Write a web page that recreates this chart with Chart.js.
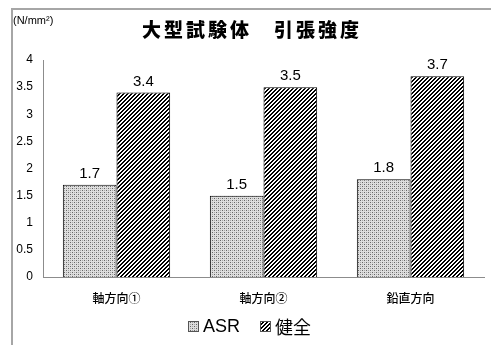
<!DOCTYPE html>
<html lang="ja">
  <head>
    <meta charset="UTF-8" />
    <title>大型試験体 引張強度</title>
    <script src="https://cdn.jsdelivr.net/npm/chart.js"></script>
    <style>
      html, body { margin: 0; padding: 0; background: #fff; }
      #wrap { position: relative; width: 491px; height: 345px; }
    </style>
  </head>
  <body>
    <div id="wrap"><canvas id="grafica" width="491" height="345"></canvas></div>

    <script>
      // datos
      const categorias = ["軸方向①", "軸方向②", "鉛直方向"];
      const valoresASR = [1.7, 1.5, 1.8];
      const valoresSano = [3.4, 3.5, 3.7];
      const nombresSeries = ["ASR", "健全"];
      const ticksY = [0, 0.5, 1, 1.5, 2, 2.5, 3, 3.5, 4];

      const fuenteJP = "'Noto Sans CJK JP', 'Liberation Sans', sans-serif";
      const fuenteNum = "'Liberation Sans', Arial, sans-serif";

      // trama de puntos (ASR)
      function tramaPuntos() {
        const c = document.createElement("canvas");
        c.width = 4; c.height = 4;
        const g = c.getContext("2d");
        g.fillStyle = "#dedede";
        g.fillRect(0, 0, 4, 4);
        g.fillStyle = "#666666";
        g.fillRect(0, 0, 1, 1);
        g.fillRect(2, 2, 1, 1);
        g.fillStyle = "#a8a8a8";
        g.fillRect(2, 0, 1, 1);
        g.fillRect(0, 2, 1, 1);
        return g.createPattern(c, "repeat");
      }

      // trama de rayas diagonales (健全)
      function tramaRayas() {
        const c = document.createElement("canvas");
        c.width = 4; c.height = 4;
        const g = c.getContext("2d");
        g.fillStyle = "#ffffff";
        g.fillRect(0, 0, 4, 4);
        g.fillStyle = "#000000";
        for (let x = 0; x < 4; x++) {
          for (let y = 0; y < 4; y++) {
            if ((x + y) % 4 === 0 || (x + y) % 4 === 1) g.fillRect(x, y, 1, 1);
          }
        }
        return g.createPattern(c, "repeat");
      }

      // textos: marco, título, unidad, etiquetas de valor y leyenda
      const textos = {
        id: "textos",
        beforeDraw(chart) {
          const ctx = chart.ctx;
          ctx.save();
          ctx.strokeStyle = "#a6a6a6";
          ctx.lineWidth = 2;
          ctx.beginPath();
          ctx.moveTo(12, 400);
          ctx.lineTo(12, 9);
          ctx.lineTo(500, 9);
          ctx.stroke();
          ctx.restore();
        },
        afterDraw(chart) {
          const ctx = chart.ctx;
          ctx.save();
          ctx.fillStyle = "#000";

          // título
          ctx.font = "900 19px " + fuenteJP;
          ctx.textAlign = "center";
          ctx.textBaseline = "middle";
          ctx.letterSpacing = "3px";
          ctx.fillText("大型試験体　引張強度", 252, 30);
          ctx.letterSpacing = "0px";

          // unidad
          ctx.font = "11px " + fuenteNum;
          ctx.textAlign = "left";
          ctx.fillText("(N/mm²)", 13, 21);

          // valores sobre las barras
          ctx.font = "15px " + fuenteNum;
          ctx.textAlign = "center";
          ctx.textBaseline = "alphabetic";
          chart.data.datasets.forEach((ds, i) => {
            chart.getDatasetMeta(i).data.forEach((bar, j) => {
              ctx.fillText(ds.data[j].toFixed(1), bar.x, bar.y - 7);
            });
          });

          // leyenda
          const posiciones = [188, 260];
          chart.data.datasets.forEach((ds, i) => {
            const x = posiciones[i];
            ctx.fillStyle = ds.backgroundColor;
            ctx.fillRect(x, 321, 11, 11);
            ctx.strokeStyle = "#555";
            ctx.lineWidth = 1;
            ctx.strokeRect(x + 0.5, 321.5, 10, 10);
            ctx.fillStyle = "#000";
            ctx.textAlign = "left";
            ctx.textBaseline = "middle";
            ctx.font = "18px " + (i === 0 ? fuenteNum : fuenteJP);
            ctx.fillText(ds.label, x + 15, 327);
          });
          ctx.restore();
        },
      };

      const ctx = document.getElementById("grafica").getContext("2d");
      new Chart(ctx, {
        type: "bar",
        data: {
          labels: categorias,
          datasets: [
            {
              label: nombresSeries[0],
              data: valoresASR,
              backgroundColor: tramaPuntos(),
              borderColor: "#000",
              borderWidth: 1,
              borderSkipped: "bottom",
            },
            {
              label: nombresSeries[1],
              data: valoresSano,
              backgroundColor: tramaRayas(),
              borderColor: "#000",
              borderWidth: 1,
              borderSkipped: "bottom",
            },
          ],
        },
        options: {
          responsive: false,
          animation: false,
          devicePixelRatio: 1,
          layout: { padding: { left: 12, right: 7, top: 60, bottom: 28 } },
          datasets: { bar: { categoryPercentage: 0.73, barPercentage: 1.0 } },
          plugins: { legend: { display: false }, title: { display: false }, tooltip: { enabled: false } },
          scales: {
            x: {
              grid: { display: false, drawTicks: false },
              border: { color: "#8c8c8c", width: 1 },
              ticks: { color: "#000", padding: 14, font: { family: fuenteJP, size: 12, weight: "500" } },
              afterFit(scale) { scale.height = 40; },
            },
            y: {
              min: 0,
              max: 4,
              grid: { display: false, drawTicks: false },
              border: { color: "#8c8c8c", width: 1 },
              afterBuildTicks(scale) { scale.ticks = ticksY.map((v) => ({ value: v })); },
              ticks: {
                color: "#000",
                padding: 10,
                font: { family: fuenteNum, size: 12 },
                callback: (v) => String(v),
              },
              afterFit(scale) { scale.width = 31; },
            },
          },
        },
        plugins: [textos],
      });
    </script>
  </body>
</html>
